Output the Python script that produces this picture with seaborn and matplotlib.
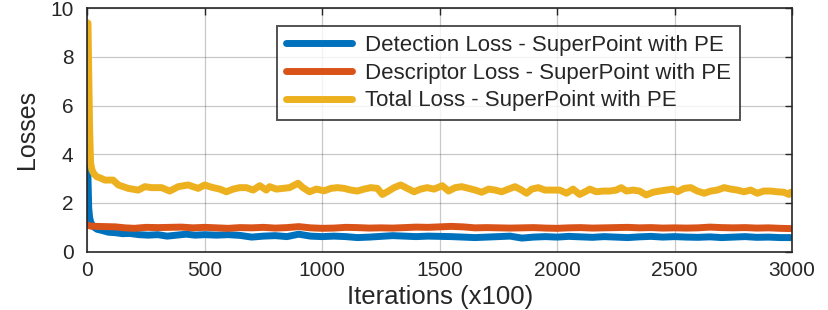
import numpy as np
import pandas as pd
import matplotlib
matplotlib.use("Agg")
import matplotlib.pyplot as plt
import seaborn as sns

# ---------------- data ----------------
det_x = [0, 3, 6, 10, 15, 21, 30, 42, 60, 90, 120, 150, 180, 220, 260, 300, 340, 380, 420, 460,
         500, 550, 600, 650, 700, 750, 800, 850, 900, 950, 1000, 1050, 1100, 1150, 1200, 1250,
         1300, 1350, 1400, 1450, 1500, 1550, 1600, 1650, 1700, 1750, 1800, 1850, 1900, 1950,
         2000, 2050, 2100, 2150, 2200, 2250, 2300, 2350, 2400, 2450, 2500, 2550, 2600, 2650,
         2700, 2750, 2800, 2850, 2900, 2950, 2994]
det_y = [4.2, 3.0, 1.8, 1.4, 1.2, 1.1, 1.0, 0.92, 0.88, 0.80, 0.78, 0.74, 0.75, 0.70, 0.68, 0.70,
         0.64, 0.68, 0.72, 0.68, 0.70, 0.68, 0.70, 0.67, 0.60, 0.64, 0.66, 0.62, 0.72, 0.64,
         0.62, 0.64, 0.62, 0.58, 0.60, 0.63, 0.66, 0.64, 0.62, 0.64, 0.63, 0.62, 0.60, 0.58,
         0.60, 0.62, 0.64, 0.56, 0.60, 0.62, 0.60, 0.63, 0.61, 0.59, 0.62, 0.60, 0.58, 0.61,
         0.63, 0.60, 0.62, 0.60, 0.59, 0.61, 0.58, 0.60, 0.62, 0.59, 0.60, 0.58, 0.58]

desc_x = [0, 5, 15, 40, 80, 120, 160, 200, 250, 300, 350, 400, 450, 500, 550, 600, 650, 700,
          750, 800, 850, 900, 950, 1000, 1050, 1100, 1150, 1200, 1250, 1300, 1350, 1400, 1450,
          1500, 1550, 1600, 1650, 1700, 1750, 1800, 1850, 1900, 1950, 2000, 2050, 2100, 2150,
          2200, 2250, 2300, 2350, 2400, 2450, 2500, 2550, 2600, 2650, 2700, 2750, 2800, 2850,
          2900, 2950, 2994]
desc_y = [1.10, 1.08, 1.05, 1.04, 1.03, 1.02, 0.98, 0.96, 1.00, 0.99, 1.00, 1.01, 0.98, 1.00,
          0.98, 0.96, 0.99, 0.98, 1.00, 0.97, 0.99, 1.03, 0.98, 0.96, 0.97, 1.00, 0.99, 0.97,
          0.98, 0.97, 0.99, 1.01, 1.00, 1.02, 1.04, 1.02, 0.98, 0.99, 0.98, 0.97, 0.98, 0.99,
          0.97, 0.96, 0.98, 0.99, 0.97, 0.98, 0.99, 1.00, 0.98, 0.99, 0.97, 0.98, 0.97, 0.98,
          1.01, 0.99, 0.98, 0.99, 0.97, 0.98, 0.96, 0.95]

tot_x = [0, 3, 5, 10, 14, 20, 28, 40, 57, 75, 110, 132, 174, 217, 245, 273, 316, 351, 387, 429,
         472, 500, 521, 536, 564, 592, 621, 649, 677, 706, 734, 762, 776, 805, 833, 861, 897,
         918, 946, 975, 1008, 1037, 1065, 1093, 1122, 1150, 1178, 1207, 1235, 1256, 1277, 1306,
         1334, 1362, 1391, 1419, 1447, 1476, 1511, 1538, 1566, 1594, 1623, 1651, 1679, 1708,
         1736, 1764, 1793, 1821, 1849, 1870, 1892, 1920, 1948, 1977, 2011, 2040, 2068, 2096,
         2125, 2139, 2167, 2195, 2224, 2252, 2273, 2295, 2323, 2351, 2379, 2408, 2436, 2464,
         2493, 2512, 2541, 2569, 2597, 2626, 2654, 2682, 2711, 2739, 2767, 2795, 2824, 2852,
         2880, 2909, 2937, 2965, 2987, 2994]
tot_y = [9.4, 9.38, 8.0, 5.0, 3.64, 3.35, 3.2, 3.08, 3.02, 2.94, 2.94, 2.74, 2.60, 2.53, 2.67,
         2.63, 2.63, 2.49, 2.67, 2.74, 2.60, 2.74, 2.67, 2.63, 2.57, 2.46, 2.57, 2.63, 2.63,
         2.53, 2.71, 2.53, 2.67, 2.57, 2.60, 2.63, 2.81, 2.63, 2.46, 2.57, 2.50, 2.60, 2.63,
         2.60, 2.53, 2.49, 2.57, 2.63, 2.60, 2.35, 2.46, 2.63, 2.74, 2.60, 2.46, 2.57, 2.63,
         2.57, 2.71, 2.49, 2.63, 2.67, 2.60, 2.53, 2.44, 2.57, 2.53, 2.46, 2.57, 2.67, 2.53,
         2.40, 2.57, 2.63, 2.53, 2.53, 2.53, 2.40, 2.57, 2.35, 2.49, 2.57, 2.46, 2.49, 2.49,
         2.53, 2.63, 2.49, 2.53, 2.49, 2.33, 2.44, 2.49, 2.53, 2.57, 2.46, 2.60, 2.63, 2.49,
         2.40, 2.49, 2.53, 2.63, 2.57, 2.53, 2.46, 2.53, 2.40, 2.49, 2.49, 2.46, 2.44, 2.35, 2.44]

labels = ["Detection Loss - SuperPoint with PE",
          "Descriptor Loss - SuperPoint with PE",
          "Total Loss - SuperPoint with PE"]
x_ticks = [0, 500, 1000, 1500, 2000, 2500, 3000]
y_ticks = [0, 2, 4, 6, 8, 10]
colors = ["#0072BD", "#D95319", "#EDB120"]

df = pd.concat([
    pd.DataFrame({"it": det_x, "loss": det_y, "series": labels[0]}),
    pd.DataFrame({"it": desc_x, "loss": desc_y, "series": labels[1]}),
    pd.DataFrame({"it": tot_x, "loss": tot_y, "series": labels[2]}),
], ignore_index=True)

# ---------------- plot ----------------
sns.set_style("white")
plt.rcParams["font.family"] = ["Liberation Sans", "DejaVu Sans"]

fig = plt.figure(figsize=(8.29, 3.10), dpi=100)
ax = fig.add_axes([0.1053, 0.188, 0.8501, 0.786])

sns.lineplot(data=df, x="it", y="loss", hue="series", hue_order=labels,
             palette=colors, linewidth=5, ax=ax, sort=False,
             solid_capstyle="round", solid_joinstyle="round")

ax.set_xlim(0, 3000)
ax.set_ylim(0, 10)
ax.set_xticks(x_ticks)
ax.set_yticks(y_ticks)
ax.set_xlabel("Iterations (x100)", fontsize=18.5, color="#262626", labelpad=3)
ax.set_ylabel("Losses", fontsize=18, color="#262626")
ax.yaxis.set_label_coords(-0.069, 0.5)
ax.tick_params(axis="both", which="both", direction="in", length=5, width=1,
               top=True, right=True, labelsize=15, colors="#262626")
ax.tick_params(axis="x", pad=7)
ax.tick_params(axis="y", pad=10)
ax.grid(True, color="#262626", alpha=0.25, linewidth=0.9)
for s in ax.spines.values():
    s.set_color("#262626")
    s.set_linewidth(1.2)

leg = ax.legend(loc="upper right", bbox_to_anchor=(0.926, 0.926), borderaxespad=0,
                fontsize=16, frameon=True, fancybox=False, handlelength=2.95,
                handletextpad=0.6, borderpad=0.4, labelspacing=0.3, edgecolor="#262626")
leg.get_frame().set_linewidth(1.4)
for line in leg.get_lines():
    line.set_linewidth(5)

fig.savefig("out.png", dpi=100)
